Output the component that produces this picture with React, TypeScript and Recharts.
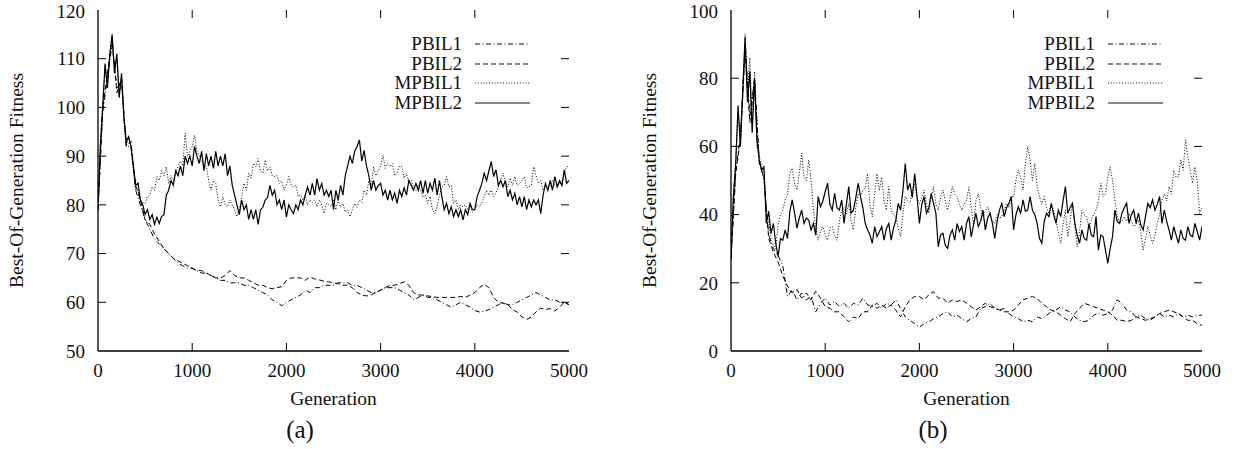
import React from 'react';
import { LineChart, Line, XAxis, YAxis, Legend, ReferenceLine } from 'recharts';

// PBIL curves are sampled every 50 generations
const GEN_50 = [
  0, 50, 100, 150, 200, 250, 300, 350, 400, 450,
  500, 550, 600, 650, 700, 750, 800, 850, 900, 950,
  1000, 1050, 1100, 1150, 1200, 1250, 1300, 1350, 1400, 1450,
  1500, 1550, 1600, 1650, 1700, 1750, 1800, 1850, 1900, 1950,
  2000, 2050, 2100, 2150, 2200, 2250, 2300, 2350, 2400, 2450,
  2500, 2550, 2600, 2650, 2700, 2750, 2800, 2850, 2900, 2950,
  3000, 3050, 3100, 3150, 3200, 3250, 3300, 3350, 3400, 3450,
  3500, 3550, 3600, 3650, 3700, 3750, 3800, 3850, 3900, 3950,
  4000, 4050, 4100, 4150, 4200, 4250, 4300, 4350, 4400, 4450,
  4500, 4550, 4600, 4650, 4700, 4750, 4800, 4850, 4900, 4950,
  5000,
];

// MPBIL curves are noisier, sampled every 25 generations
const GEN_25 = [
  0, 25, 50, 75, 100, 125, 150, 175, 200, 225,
  250, 275, 300, 325, 350, 375, 400, 425, 450, 475,
  500, 525, 550, 575, 600, 625, 650, 675, 700, 725,
  750, 775, 800, 825, 850, 875, 900, 925, 950, 975,
  1000, 1025, 1050, 1075, 1100, 1125, 1150, 1175, 1200, 1225,
  1250, 1275, 1300, 1325, 1350, 1375, 1400, 1425, 1450, 1475,
  1500, 1525, 1550, 1575, 1600, 1625, 1650, 1675, 1700, 1725,
  1750, 1775, 1800, 1825, 1850, 1875, 1900, 1925, 1950, 1975,
  2000, 2025, 2050, 2075, 2100, 2125, 2150, 2175, 2200, 2225,
  2250, 2275, 2300, 2325, 2350, 2375, 2400, 2425, 2450, 2475,
  2500, 2525, 2550, 2575, 2600, 2625, 2650, 2675, 2700, 2725,
  2750, 2775, 2800, 2825, 2850, 2875, 2900, 2925, 2950, 2975,
  3000, 3025, 3050, 3075, 3100, 3125, 3150, 3175, 3200, 3225,
  3250, 3275, 3300, 3325, 3350, 3375, 3400, 3425, 3450, 3475,
  3500, 3525, 3550, 3575, 3600, 3625, 3650, 3675, 3700, 3725,
  3750, 3775, 3800, 3825, 3850, 3875, 3900, 3925, 3950, 3975,
  4000, 4025, 4050, 4075, 4100, 4125, 4150, 4175, 4200, 4225,
  4250, 4275, 4300, 4325, 4350, 4375, 4400, 4425, 4450, 4475,
  4500, 4525, 4550, 4575, 4600, 4625, 4650, 4675, 4700, 4725,
  4750, 4775, 4800, 4825, 4850, 4875, 4900, 4925, 4950, 4975,
  5000,
];

const X_TICKS = [0, 1000, 2000, 3000, 4000, 5000];

// ---- panel (a)
const A_Y_TICKS = [50, 60, 70, 80, 90, 100, 110, 120];
const A_PBIL1 = [
  79, 99, 106, 113, 104, 105, 92, 92, 83, 80,
  77, 75, 73, 72, 71, 70, 69, 68, 67.5, 67,
  67, 66.5, 66, 66, 65.5, 65, 64.5, 64.5, 64, 64,
  64, 63.5, 63.5, 63, 62.5, 62, 61.5, 60.5, 60, 59.3,
  60, 60.5, 61, 61.5, 62.5, 62, 63, 63, 63.5, 63.5,
  63.5, 64, 64, 64, 63.5, 63.5, 63, 62.5, 62, 62,
  62.5, 63, 63, 63, 62.5, 62, 61.5, 60.5, 61, 61.5,
  61, 61, 60.5, 60, 59.5, 59, 59.5, 60, 59.5, 59,
  58.3, 58, 58.2, 58.5, 59, 59.5, 60, 59.5, 59.5, 60,
  60.5, 61, 61.5, 62, 61.5, 61, 60.5, 60.5, 60, 60,
  59.5,
];
const A_PBIL2 = [
  79, 100, 107, 114, 103, 106, 92, 93, 84, 81,
  77, 76, 74, 72.5, 71, 70, 69, 68.5, 68, 67.5,
  67, 66.5, 66.5, 66, 65.5, 65, 65, 65.5, 66.5, 65.5,
  65, 65, 64.5, 64, 63.5, 63.5, 63, 62.8, 63, 63.2,
  64.5, 65, 65, 65, 64.5, 65.2, 64.8, 64.6, 64.3, 64.2,
  64, 63.8, 63.5, 63.5, 63, 62, 61.5, 61.3, 61.5, 62,
  62.5, 63, 63.5, 63.5, 63.8, 64.2, 63.5, 62, 61.5, 61.5,
  61.3, 61.2, 61, 61, 61, 61, 61, 61.2, 61, 61.5,
  62, 63, 63.7, 63, 61, 60, 59.8, 59.5, 58.5, 58,
  57, 56.5, 57, 58, 58.8, 58.5, 58.7, 58.2, 59, 60,
  59.5,
];
const A_MPBIL1 = [
  79, 93, 101, 108, 105, 110, 114, 108, 110, 103,
  106, 97, 92, 94, 92, 87, 83, 83, 81, 80.5,
  80.3, 81.7, 82, 83.7, 83, 85.8, 85, 87, 86, 87.8,
  84.4, 86, 85, 86.5, 88, 89, 88, 94.7, 90, 91,
  92, 94.3, 91, 90, 89, 87.8, 88, 85, 83, 85,
  84.4, 81, 79.6, 81.7, 80, 79.6, 81, 80, 79, 77.6,
  79, 81.7, 84.4, 83, 86.5, 85.5, 88.5, 87.8, 89.5, 87,
  86.5, 89.2, 87, 87.8, 86, 85.8, 86, 84.4, 85, 83,
  84, 85.8, 84, 83.7, 84, 81.7, 82, 81, 82, 80,
  81, 80.5, 81, 79.6, 81, 80, 78.2, 80.3, 80, 79.6,
  81, 79, 81, 79.5, 80.3, 78.5, 79, 77.6, 79, 80.3,
  79.5, 81, 80.5, 83, 82, 85, 84, 87.8, 86, 87,
  88, 90.2, 87.5, 88.5, 87.8, 88.5, 86, 86.5, 88, 87.8,
  85.5, 86.5, 84.5, 85, 83.5, 83, 84, 83, 81.5, 82,
  80.3, 81.7, 79, 78.2, 79.6, 82, 83.7, 84, 85.8, 83.7,
  84, 80.3, 81, 79, 80, 79.6, 80, 79, 80, 78.5,
  79, 80, 79.6, 80.5, 81.7, 83, 82, 83, 81.7, 82.5,
  83.7, 85, 86.5, 84.5, 83.7, 85.5, 84, 85.8, 84, 84.4,
  85, 85.8, 83.5, 83.7, 84, 87.8, 86, 84.4, 85, 83,
  84, 83, 84, 85, 84, 83.7, 84.5, 84, 86.5, 87.8,
  88,
];
const A_MPBIL2 = [
  79, 92, 100, 109, 104, 111, 115, 107, 111, 102,
  107, 98, 93, 94, 92, 88, 84, 84.5, 81, 80,
  78, 79, 77, 78, 76, 77.5, 76.2, 77.6, 78, 82,
  83, 85, 84, 87, 86, 88, 86, 90, 88.5, 90,
  88, 92, 90, 88.5, 91, 87, 90.5, 88, 90, 87.5,
  91, 88, 90, 88, 90.5, 86, 88, 84, 82, 80,
  78, 81, 79, 80, 77, 79, 77, 79, 76, 79,
  79.5, 81, 81.5, 84, 82, 83, 80, 81, 79, 81,
  77.5, 80, 79, 78.2, 80, 79, 81, 80, 82, 83.7,
  82, 84.4, 82, 85.4, 83, 84.4, 82, 83, 81.7, 83,
  79, 83, 81, 84, 82, 86, 88, 90, 88.5, 91,
  92, 93.3, 89, 91.2, 88, 86, 83, 85, 83, 84,
  84.4, 82, 83, 81, 83, 81, 82.4, 80.3, 83, 81.7,
  83.5, 82, 85, 84, 83, 84.4, 83, 85, 82.4, 85,
  82.4, 84.4, 83, 85.5, 82, 85, 81.7, 79, 80.3, 78.2,
  79.6, 77.6, 79, 77.6, 79, 76.9, 79, 78, 80.3, 79,
  79, 81.7, 83, 84.4, 86.5, 85, 87, 88.9, 85.8, 87.2,
  84, 85, 83.7, 85, 81.7, 83, 81, 82.4, 80, 81.7,
  79.6, 81.7, 79, 81, 79.6, 81, 80, 81, 78.2, 82,
  84.4, 83, 85, 83, 85.8, 83.7, 85, 84, 87.2, 84.4,
  85,
];

// ---- panel (b)
const B_Y_TICKS = [0, 20, 40, 60, 80, 100];
const B_PBIL1 = [
  27, 53, 63, 90, 69, 80, 56, 50, 34, 30,
  28, 25, 16, 18, 15, 17, 15, 16, 11.5, 14,
  15.5, 13.5, 14.5, 13, 14, 12.5, 14, 13.5, 15.5, 13.5,
  13, 14, 12.5, 14, 13.5, 15, 12.5, 10, 9, 8,
  7, 8, 8.5, 9.5, 10, 11, 11.5, 10, 10.5, 9.5,
  8.6, 9.5, 10, 12.5, 13, 14, 12.5, 12, 12.5, 11,
  10, 9.5, 8.6, 9, 8.6, 10, 9.5, 10.5, 11.5, 12,
  13, 12, 11.5, 10, 9, 8.6, 9, 10.5, 11, 10.5,
  11, 12, 15, 14, 12, 11.5, 10, 10.5, 9.5, 9,
  10, 11, 10, 10.5, 10, 11, 10, 10.5, 10, 10.5,
  10.5,
];
const B_PBIL2 = [
  27, 52, 62, 88, 67, 79, 55, 51, 33, 29,
  26, 22, 19, 17, 18, 15.5, 17, 15, 17.5, 15.5,
  13, 12.5, 11.5, 11.5, 10, 8.6, 10, 9.5, 11.5, 11.5,
  13.5, 12.5, 13.5, 12.5, 13.5, 12, 10, 13, 15, 16,
  16, 15, 16.5, 17.4, 15.5, 15.5, 14, 15, 14.5, 15,
  14, 13, 12, 13, 14, 13, 12.5, 12, 11.5, 11.5,
  12, 13.5, 15, 15.5, 16, 15.4, 14, 13, 12, 11.5,
  10.5, 9.5, 8.6, 11, 12.5, 14, 13.5, 13, 12.5, 12,
  11.5, 10.5, 9, 9, 8.6, 9, 10, 9.5, 9, 9.5,
  10, 11, 11.5, 12, 11.5, 11, 10, 9, 9, 8,
  7.5,
];
const B_MPBIL1 = [
  27, 46, 56, 70, 62, 78, 93, 76, 86, 66,
  82, 60, 57, 54, 53, 40, 38, 33, 31, 30,
  37, 40, 41.3, 44.3, 46, 52, 53.6, 49, 47.2, 52,
  58, 51, 50, 56, 50, 41.3, 36, 32.5, 35, 36.5,
  34, 32.5, 36, 36.5, 34, 32.5, 38, 41.3, 42, 40,
  43.3, 38, 35.5, 42, 46.2, 45.3, 47, 48, 52, 43,
  39.4, 46, 52, 47, 51, 44, 41.3, 48.2, 41.3, 40,
  39.4, 36, 33.5, 40, 45.3, 44, 43.3, 47, 49.2, 45,
  43.3, 45, 47.2, 43, 40.4, 45, 48.2, 43, 41.3, 45,
  47.2, 44, 41.3, 45, 48.2, 46, 45.3, 43, 41.3, 43,
  44.3, 48, 42, 37, 44, 46.2, 42, 39.4, 41, 42.3,
  40, 38, 37.4, 40, 39, 39.4, 41, 43.3, 42, 45.3,
  45.3, 50, 53, 51, 47.2, 55, 60, 56, 50, 55,
  48, 45.3, 43, 45.3, 42, 40.4, 43, 41.3, 38, 35,
  31.6, 37, 41.3, 33.5, 38, 43.3, 37, 30.6, 35, 41.3,
  40, 39.4, 36, 38.4, 40, 41.3, 44, 49.2, 45.3, 46,
  51, 54, 50, 44.3, 40, 37.4, 38, 39.4, 38, 40.4,
  38, 36.5, 37, 38.4, 35, 29.6, 33, 36.5, 34, 31.6,
  34, 37.4, 40, 44.3, 46.2, 44, 48.2, 46, 53, 51,
  51, 56, 53, 61.9, 57, 53, 49.2, 54, 50, 40.4,
  42,
];
const B_MPBIL2 = [
  27, 45, 55, 72, 60, 76, 92, 73, 82, 64,
  80, 62, 56, 53, 54, 37.4, 41, 34.5, 37.4, 31.6,
  27.7, 33, 32.5, 35.5, 33, 41, 44.3, 40.4, 36, 39,
  41.3, 37.4, 39, 38.4, 35.5, 37.4, 34, 45.3, 42.3, 44,
  46.7, 49.2, 43, 41.3, 46.2, 42, 41.3, 44.3, 37.4, 43,
  48.2, 40.4, 41.3, 45, 49.2, 45.3, 42, 37.4, 35.5, 34,
  31.6, 36.5, 33.5, 35, 36.5, 32.5, 36, 37.4, 32.5, 36,
  38.4, 43.3, 41.3, 47, 55, 47.2, 49.2, 45, 52, 45.3,
  37.4, 43, 45.3, 40.4, 42, 46.2, 43.3, 40.4, 30.6, 34,
  34.5, 31, 30.1, 34, 35.5, 32.5, 37.4, 35, 36.5, 32.5,
  37.4, 39.4, 33.5, 37, 40.4, 36.5, 38, 41.3, 35.5, 39,
  40.4, 37.4, 33, 38, 41.3, 43.3, 39.4, 42, 43.3, 45.3,
  35.5, 40, 42.3, 40.4, 44.3, 41, 41.3, 45.3, 41.3, 40,
  37.4, 33, 31.6, 38, 40.4, 39.4, 43.3, 40, 37.4, 41.3,
  39.4, 44, 48.2, 40.4, 42, 43.3, 37.4, 34, 31.6, 35.5,
  33, 32.5, 37.4, 34, 33.5, 39.4, 29.6, 34, 33.5, 29.6,
  25.7, 30, 33.5, 41.3, 38, 37.4, 40.4, 42, 43.3, 37.4,
  40, 41.3, 37.4, 40.4, 37, 35.5, 39.4, 43.3, 42, 44.3,
  41.3, 43, 45.3, 37.4, 41.3, 38, 35.5, 32.5, 36.5, 34,
  31.6, 35.5, 33, 32.5, 36.5, 34, 33.5, 37.4, 35, 32.5,
  36.5,
];

const SERIES = [
  { key: 'pbil1', name: 'PBIL1', dash: '5 2.5 1 2.5', width: 1, fine: false },
  { key: 'pbil2', name: 'PBIL2', dash: '5 3', width: 1, fine: false },
  { key: 'mpbil1', name: 'MPBIL1', dash: '1 1.8', width: 1, fine: true },
  { key: 'mpbil2', name: 'MPBIL2', dash: undefined, width: 1.2, fine: true },
];

const FONT = '"Liberation Serif", "Times New Roman", serif';
const INK = '#111';

const PANEL_W = 617;
const PANEL_H = 449;
const PLOT_H = 341;
const PLOT_W = 471;
const TICK_PX = 8;

function coarseRows(p1: number[], p2: number[]) {
  return GEN_50.map((gen, i) => ({ gen, pbil1: p1[i], pbil2: p2[i] }));
}
function fineRows(m1: number[], m2: number[]) {
  return GEN_25.map((gen, i) => ({ gen, mpbil1: m1[i], mpbil2: m2[i] }));
}

const panelA = {
  coarse: coarseRows(A_PBIL1, A_PBIL2),
  fine: fineRows(A_MPBIL1, A_MPBIL2),
};
const panelB = {
  coarse: coarseRows(B_PBIL1, B_PBIL2),
  fine: fineRows(B_MPBIL1, B_MPBIL2),
};

function KeyBox() {
  return (
    <div style={{ fontFamily: FONT, fontSize: 19, color: INK }}>
      {SERIES.map((s) => (
        <div
          key={s.key}
          style={{ display: 'flex', justifyContent: 'flex-end', alignItems: 'center', height: 19.5 }}
        >
          <span style={{ lineHeight: '19.5px' }}>{s.name}</span>
          <svg width={68} height={19.5} style={{ display: 'block' }}>
            <line
              x1={13}
              x2={68}
              y1={10}
              y2={10}
              stroke={INK}
              strokeWidth={s.width}
              strokeDasharray={s.dash}
            />
          </svg>
        </div>
      ))}
    </div>
  );
}

interface PanelProps {
  coarse: any[];
  fine: any[];
  domain: [number, number];
  yTicks: number[];
  axisWidth: number;
  right: number;
}

function Panel({ coarse, fine, domain, yTicks, axisWidth, right }: PanelProps) {
  const plotRight = PANEL_W - right;
  const tickStyle = { fontSize: 19, fontFamily: FONT, fill: INK };
  const lineStyle = { stroke: '#000', strokeWidth: 1.3 };
  const [y0, y1] = domain;
  const dy = (TICK_PX * (y1 - y0)) / PLOT_H;
  const dx = (TICK_PX * 5000) / PLOT_W;
  const innerX = X_TICKS.slice(1, -1);
  const innerY = yTicks.slice(1, -1);
  const tickProps = { stroke: '#000', strokeWidth: 1 };
  return (
    <LineChart width={PANEL_W} height={PANEL_H} margin={{ top: 10, right, bottom: 68, left: 0 }}>
      <XAxis
        dataKey="gen"
        type="number"
        domain={[0, 5000]}
        ticks={X_TICKS}
        allowDataOverflow
        allowDuplicatedCategory={false}
        height={30}
        tick={tickStyle}
        tickSize={0}
        tickMargin={13}
        axisLine={lineStyle}
        tickLine={false}
      />
      <XAxis
        xAxisId="top"
        orientation="top"
        type="number"
        domain={[0, 5000]}
        ticks={X_TICKS}
        allowDataOverflow
        height={0}
        mirror
        tick={false}
        tickLine={false}
        axisLine={lineStyle}
      />
      <YAxis
        type="number"
        domain={domain}
        ticks={yTicks}
        allowDataOverflow
        width={axisWidth}
        tick={tickStyle}
        tickSize={0}
        tickMargin={13}
        axisLine={lineStyle}
        tickLine={false}
      />
      <YAxis
        yAxisId="right"
        orientation="right"
        type="number"
        domain={domain}
        ticks={yTicks}
        allowDataOverflow
        width={0}
        mirror
        tick={false}
        tickLine={false}
        axisLine={lineStyle}
      />
      {innerX.map((t) => (
        <ReferenceLine key={`b${t}`} segment={[{ x: t, y: y0 }, { x: t, y: y0 + dy }]} {...tickProps} />
      ))}
      {innerX.map((t) => (
        <ReferenceLine key={`t${t}`} segment={[{ x: t, y: y1 }, { x: t, y: y1 - dy }]} {...tickProps} />
      ))}
      {innerY.map((t) => (
        <ReferenceLine key={`l${t}`} segment={[{ x: 0, y: t }, { x: dx, y: t }]} {...tickProps} />
      ))}
      {innerY.map((t) => (
        <ReferenceLine key={`r${t}`} segment={[{ x: 5000, y: t }, { x: 5000 - dx, y: t }]} {...tickProps} />
      ))}
      <Legend
        layout="vertical"
        align="center"
        verticalAlign="middle"
        content={() => <KeyBox />}
        wrapperStyle={{ top: 34, left: plotRight - 230, width: 191, bottom: 'auto', right: 'auto' }}
      />
      {SERIES.map((s) => (
        <Line
          key={s.key}
          data={s.fine ? fine : coarse}
          dataKey={s.key}
          name={s.name}
          type="linear"
          stroke="#000"
          strokeWidth={s.width}
          strokeDasharray={s.dash}
          dot={false}
          activeDot={false}
          isAnimationActive={false}
        />
      ))}
    </LineChart>
  );
}

export default function App() {
  const titleStyle = { fontFamily: FONT, fontSize: 19.5, fill: INK };
  return (
    <div style={{ position: 'fixed', left: 0, top: 0, width: 1234, height: 449, background: '#fff' }}>
      <div style={{ position: 'absolute', left: 0, top: 0 }}>
        <Panel {...panelA} domain={[50, 120]} yTicks={A_Y_TICKS} axisWidth={98} right={48} />
      </div>
      <div style={{ position: 'absolute', left: PANEL_W, top: 0 }}>
        <Panel {...panelB} domain={[0, 100]} yTicks={B_Y_TICKS} axisWidth={114} right={32} />
      </div>
      <svg
        width={1234}
        height={449}
        style={{ position: 'absolute', left: 0, top: 0, pointerEvents: 'none' }}
      >
        <text x={333.5} y={405} textAnchor="middle" style={titleStyle}>Generation</text>
        <text x={966.5} y={405} textAnchor="middle" style={titleStyle}>Generation</text>
        <text transform="translate(23,180.5) rotate(-90)" textAnchor="middle" style={titleStyle}>
          Best-Of-Generation Fitness
        </text>
        <text transform="translate(656,180.5) rotate(-90)" textAnchor="middle" style={titleStyle}>
          Best-Of-Generation Fitness
        </text>
        <text x={300} y={438} textAnchor="middle" style={{ ...titleStyle, fontSize: 25 }}>(a)</text>
        <text x={933} y={438} textAnchor="middle" style={{ ...titleStyle, fontSize: 25 }}>(b)</text>
      </svg>
    </div>
  );
}
